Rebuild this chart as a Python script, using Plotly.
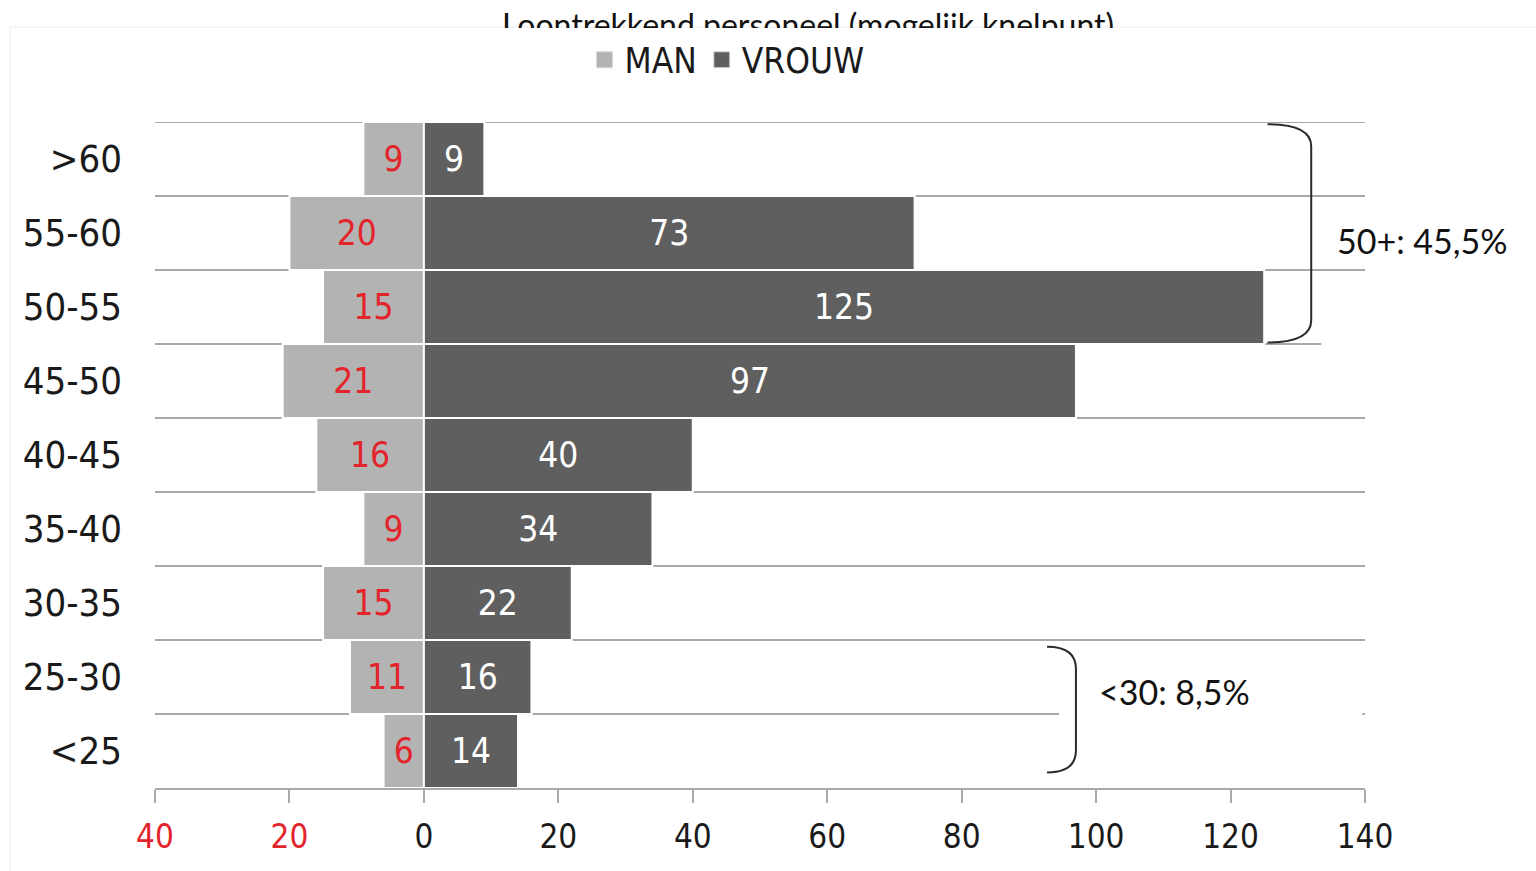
import numpy as np
import plotly.graph_objects as go

# ---------------- data ----------------
categories = ["<25", "25-30", "30-35", "35-40", "40-45", "45-50", "50-55", "55-60", ">60"]
man = [6, 11, 15, 9, 16, 21, 15, 20, 9]
vrouw = [14, 16, 22, 34, 40, 97, 125, 73, 9]
x_ticks = [-40, -20, 0, 20, 40, 60, 80, 100, 120, 140]
title_text = "Loontrekkend personeel (mogelijk knelpunt)"
note_50 = "50+: 45,5%"
note_30 = "<30: 8,5%"

# ---------------- style ----------------
W, H = 1536, 871
L, R, T, B = 155, 171, 122, 83
NARROW = "Liberation Sans Narrow, Arial Narrow, DejaVu Sans Condensed, sans-serif"
HUMAN = "Lato, Open Sans, sans-serif"
RED = "#e3242b"
C_MAN = "#b3b3b3"
C_VROUW = "#5f5f5f"
GRID = "#a9a9a9"

pw, ph = W - L - R, H - T - B
def px2paper_x(px):
    return (px - L) / pw
def px2paper_y(py):
    return (H - B - py) / ph

ypos = np.arange(len(categories))
y_top = len(categories) - 0.5

fig = go.Figure()
fig.add_trace(go.Bar(
    y=ypos, x=[-v for v in man], orientation="h", name="MAN", showlegend=False,
    marker=dict(color=C_MAN, line=dict(color="white", width=2)),
    text=[str(v) for v in man], textposition="inside", insidetextanchor="middle",
    textfont=dict(family=NARROW, size=35, color=RED),
    hoverinfo="skip",
))
fig.add_trace(go.Bar(
    y=ypos, x=vrouw, orientation="h", name="VROUW", showlegend=False,
    marker=dict(color=C_VROUW, line=dict(color="white", width=2)),
    text=[str(v) for v in vrouw], textposition="inside", insidetextanchor="middle",
    textfont=dict(family=NARROW, size=35, color="white"),
    hoverinfo="skip",
))
# legend entries (bigger square swatches)
for nm, col in [("MAN", C_MAN), ("VROUW", C_VROUW)]:
    fig.add_trace(go.Scatter(
        x=[None], y=[None], mode="markers", name=nm,
        marker=dict(symbol="square", size=18, color=col, line=dict(color="#d9d9d9", width=1)),
        hoverinfo="skip",
    ))

ticktext = [f'<span style="color:{RED}">{abs(v)}</span>' if v < 0 else str(v) for v in x_ticks]

fig.update_layout(
    width=W, height=H,
    margin=dict(l=L, r=R, t=T, b=B, pad=0),
    paper_bgcolor="white", plot_bgcolor="white",
    barmode="relative", bargap=0,
    showlegend=True,
    legend=dict(orientation="h", x=px2paper_x(727), xanchor="center",
                y=px2paper_y(60), yanchor="middle",
                font=dict(family=NARROW, size=35, color="#1a1a1a"),
                itemsizing="trace", itemwidth=30, bgcolor="rgba(0,0,0,0)"),
    xaxis=dict(range=[x_ticks[0], x_ticks[-1]], tickmode="array", tickvals=x_ticks,
               ticktext=ticktext, showgrid=False, zeroline=False,
               showline=True, linecolor=GRID, linewidth=2,
               ticks="outside", ticklen=13, tickwidth=2, tickcolor=GRID,
               ticklabelstandoff=5,
               tickfont=dict(family=NARROW, size=33, color="#1a1a1a"),
               fixedrange=True),
    yaxis=dict(range=[-0.5, y_top], tickmode="array", tickvals=ypos,
               ticktext=categories, showgrid=False, zeroline=False, showline=False,
               ticks="", ticklabelstandoff=32,
               tickfont=dict(family=NARROW, size=38, color="#1a1a1a"),
               minor=dict(tickmode="array", tickvals=list(ypos[1:] - 0.5),
                          showgrid=True, gridcolor=GRID, gridwidth=2, ticks=""),
               fixedrange=True),
)

# top grid line (upper category boundary)
fig.add_shape(type="line", xref="paper", yref="y", x0=0, x1=1, y0=y_top, y1=y_top,
              line=dict(color=GRID, width=2), layer="between")

# white masks over gridlines next to the annotations (as in the original)
fig.add_shape(type="rect", xref="x", yref="y", x0=94.5, x1=139.6, y0=0.35, y1=0.65,
              fillcolor="white", line=dict(width=0), layer="between")
fig.add_shape(type="rect", xref="x", yref="y", x0=133.5, x1=140.5, y0=5.35, y1=5.65,
              fillcolor="white", line=dict(width=0), layer="between")

# frame line of the chart area
fig.add_shape(type="rect", xref="paper", yref="paper",
              x0=px2paper_x(10), x1=px2paper_x(1560), y0=px2paper_y(900), y1=px2paper_y(27),
              line=dict(color="#ececec", width=1), fillcolor="rgba(0,0,0,0)", layer="below")

# braces
def brace(x0, x1, yt, yb, r):
    return (f"M {x0},{yt} Q {x1},{yt} {x1},{yt - r} "
            f"L {x1},{yb + r} Q {x1},{yb} {x0},{yb}")

fig.add_shape(type="path", xref="x", yref="y",
              path=brace(125.5, 132.0, 8.47, 5.52, 0.3),
              line=dict(color="#2b2b2b", width=2), layer="above")
fig.add_shape(type="path", xref="x", yref="y",
              path=brace(92.7, 97.0, 1.41, -0.29, 0.3),
              line=dict(color="#2b2b2b", width=2), layer="above")

fig.add_annotation(x=135.6, y=6.9, xref="x", yref="y", text=note_50, showarrow=False,
                   xanchor="left", yanchor="middle",
                   font=dict(family=HUMAN, size=34, color="#111111"))
fig.add_annotation(x=100.2, y=0.8, xref="x", yref="y", text=note_30, showarrow=False,
                   xanchor="left", yanchor="middle",
                   font=dict(family=HUMAN, size=34, color="#111111"))

# title (partly hidden behind the chart area, as in the original)
fig.add_annotation(x=px2paper_x(808), y=px2paper_y(24), xref="paper", yref="paper",
                   text=title_text, showarrow=False, xanchor="center", yanchor="middle",
                   font=dict(family=HUMAN, size=32, color="#111111"))
fig.add_annotation(x=px2paper_x(808), y=px2paper_y(27.5), xref="paper", yref="paper",
                   text=" ", showarrow=False, xanchor="center", yanchor="top",
                   width=720, height=16, bgcolor="white", borderpad=0, borderwidth=0,
                   font=dict(size=10))

fig.write_html("out.html", config={"displayModeBar": False, "staticPlot": True},
               post_script="document.body.style.margin='0';document.body.style.overflow='hidden';")
